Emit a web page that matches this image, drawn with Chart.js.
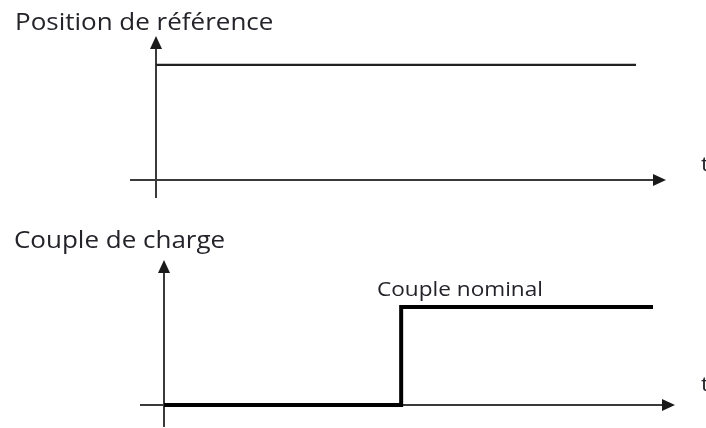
<!DOCTYPE html>
<html lang="fr">
<head>
  <meta charset="UTF-8">
  <title>Position de référence / Couple de charge</title>
  <style>
    body {
      margin: 0;
      width: 706px;
      height: 428px;
      background: #ffffff;
      position: relative;
      overflow: hidden;
      font-family: 'Open Sans', sans-serif;
      color: #23232a;
    }
    .wrap { position: absolute; left: 0; width: 706px; height: 214px; }
    .label {
      position: absolute;
      white-space: nowrap;
      line-height: 1;
      transform: scaleX(1.13);
      transform-origin: left top;
    }
    .title { font-size: 23px; }
    .note { font-size: 20px; }
    .t { font-size: 20px; }
  </style>
</head>
<body>
  <div class="wrap" style="top:0"><canvas id="refChart" width="706" height="214"></canvas></div>
  <div class="wrap" style="top:214px"><canvas id="loadChart" width="706" height="214"></canvas></div>

  <div class="label title" style="left:15px; top:10px">Position de référence</div>
  <div class="label title" style="left:14px; top:228px">Couple de charge</div>
  <div class="label note" style="left:377px; top:279px">Couple nominal</div>
  <div class="label t" style="left:701px; top:154px">t</div>
  <div class="label t" style="left:701px; top:374px">t</div>

  <script src="https://cdn.jsdelivr.net/npm/chart.js"></script>
  <script>
    // reference position: constant from t = 0
    const refTime = [0, 10];
    const refPosition = [1, 1];

    // load torque: zero, then steps up to nominal torque
    const loadTime = [0, 4.85, 10];
    const loadTorque = [0, 1, 1];

    // draws the two axes with arrow heads, crossing at (0, 0)
    const arrowAxes = {
      id: 'arrowAxes',
      beforeDatasetsDraw(chart) {
        const { ctx, chartArea, scales } = chart;
        const x0 = scales.x.getPixelForValue(0);
        const y0 = scales.y.getPixelForValue(0);
        const left = chartArea.left, right = chartArea.right;
        const top = chartArea.top, bottom = chartArea.bottom;
        ctx.save();
        ctx.strokeStyle = '#3a3a3a';
        ctx.fillStyle = '#1a1a1a';
        ctx.lineWidth = 2;
        // x axis
        ctx.beginPath();
        ctx.moveTo(left, y0);
        ctx.lineTo(right - 10, y0);
        ctx.stroke();
        ctx.beginPath();
        ctx.moveTo(right, y0);
        ctx.lineTo(right - 13, y0 - 6);
        ctx.lineTo(right - 13, y0 + 6);
        ctx.closePath();
        ctx.fill();
        // y axis
        ctx.beginPath();
        ctx.moveTo(x0, bottom);
        ctx.lineTo(x0, top + 10);
        ctx.stroke();
        ctx.beginPath();
        ctx.moveTo(x0, top);
        ctx.lineTo(x0 - 6, top + 13);
        ctx.lineTo(x0 + 6, top + 13);
        ctx.closePath();
        ctx.fill();
        ctx.restore();
      }
    };

    function makeChart(id, xs, ys, opts) {
      new Chart(document.getElementById(id), {
        type: 'line',
        data: {
          datasets: [{
            data: xs.map((x, i) => ({ x: x, y: ys[i] })),
            borderColor: opts.color,
            borderWidth: opts.width,
            stepped: opts.stepped,
            pointRadius: 0,
            fill: false,
            tension: 0
          }]
        },
        options: {
          responsive: false,
          animation: false,
          layout: { padding: opts.padding },
          plugins: { legend: { display: false }, title: { display: false }, tooltip: { enabled: false } },
          scales: {
            x: { type: 'linear', min: opts.xMin, max: opts.xMax, display: false },
            y: { type: 'linear', min: opts.yMin, max: opts.yMax, display: false }
          }
        },
        plugins: [arrowAxes]
      });
    }

    makeChart('refChart', refTime, refPosition, {
      color: '#222222', width: 2.2, stepped: false,
      padding: { left: 130, right: 40, top: 36, bottom: 16 },
      xMin: -0.542, xMax: 10.625, yMin: -0.157, yMax: 1.252
    });

    makeChart('loadChart', loadTime, loadTorque, {
      color: '#000000', width: 4, stepped: true,
      padding: { left: 140, right: 31, top: 46, bottom: 1 },
      xMin: -0.491, xMax: 10.45, yMin: -0.2245, yMax: 1.48
    });
  </script>
</body>
</html>
